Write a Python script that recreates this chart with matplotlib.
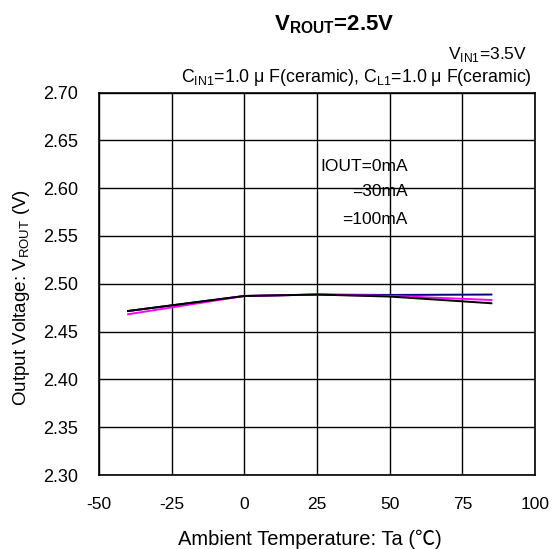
import matplotlib

matplotlib.use('Agg')
from matplotlib import pyplot as plt

plt.rcParams['font.family'] = ['Liberation Sans', 'Noto Sans CJK JP', 'DejaVu Sans']
plt.rcParams['mathtext.fontset'] = 'custom'
plt.rcParams['mathtext.rm'] = 'Liberation Sans'
plt.rcParams['mathtext.bf'] = 'Liberation Sans:bold'
plt.rcParams['axes.unicode_minus'] = False

# Ambient temperature (C)
temps = [-40, 0, 25, 50, 85]
# Output voltage for each load current
vout_0ma = [2.4715, 2.4872, 2.4887, 2.4883, 2.4887]
vout_30ma = [2.4681, 2.4872, 2.4887, 2.4873, 2.4830]
vout_100ma = [2.4715, 2.4872, 2.4887, 2.4866, 2.4796]

x_ticks = [-50, -25, 0, 25, 50, 75, 100]
y_ticks = [2.30, 2.35, 2.40, 2.45, 2.50, 2.55, 2.60, 2.65, 2.70]

W, H = 554, 549
fig = plt.figure(figsize=(W / 100, H / 100), dpi=100)
ax = fig.add_axes([99 / W, 1 - 475 / H, 436 / W, 382.5 / H])

ax.plot(temps, vout_0ma, color='#000080', lw=1.4)
ax.plot(temps, vout_30ma, color='#ff00ff', lw=1.4)
ax.plot(temps, vout_100ma, color='black', lw=1.4)

ax.set_xlim(-50, 100)
ax.set_ylim(2.30, 2.70)
ax.set_xticks(x_ticks)
ax.set_yticks(y_ticks)
ax.set_yticklabels(["{:.2f}".format(v) for v in y_ticks])
ax.grid(True, color='black', lw=1)
ax.tick_params(length=0, labelsize=12.5)
ax.tick_params(axis='y', labelsize=13, pad=15)
ax.tick_params(axis='x', pad=16)
for s in ax.spines.values():
    s.set_linewidth(1.2)

# axis labels placed by pixel position
fig.text(310 / W, 1 - 539 / H, "Ambient Temperature: Ta (℃)", ha='center', va='center', fontsize=14.5)
fig.text(22 / W, 1 - 297 / H, r"Output Voltage: V$_{\mathrm{ROUT}}$ (V)", ha='center', va='center',
         rotation=90, fontsize=13.5)

# legend text without swatches
ax.text(56.3, 2.623, "IOUT=0mA", ha='right', va='center', fontsize=12.5)
ax.text(56.3, 2.596, "=30mA", ha='right', va='center', fontsize=12.5)
ax.text(56.3, 2.5675, "=100mA", ha='right', va='center', fontsize=12.5)

fig.text(334 / W, 1 - 25 / H, r"V$_{\mathbf{ROUT}}$=2.5V", ha='center', va='center',
         fontsize=16, fontweight='bold')
fig.text(527 / W, 1 - 55 / H, r"V$_{\mathrm{IN1}}$=3.5V", ha='right', va='center', fontsize=12.5)
fig.text(532 / W, 1 - 77 / H, r"C$_{\mathrm{IN1}}$=1.0 μ F(ceramic), C$_{\mathrm{L1}}$=1.0 μ F(ceramic)",
         ha='right', va='center', fontsize=12.8)

plt.savefig("out.png", dpi=100)
